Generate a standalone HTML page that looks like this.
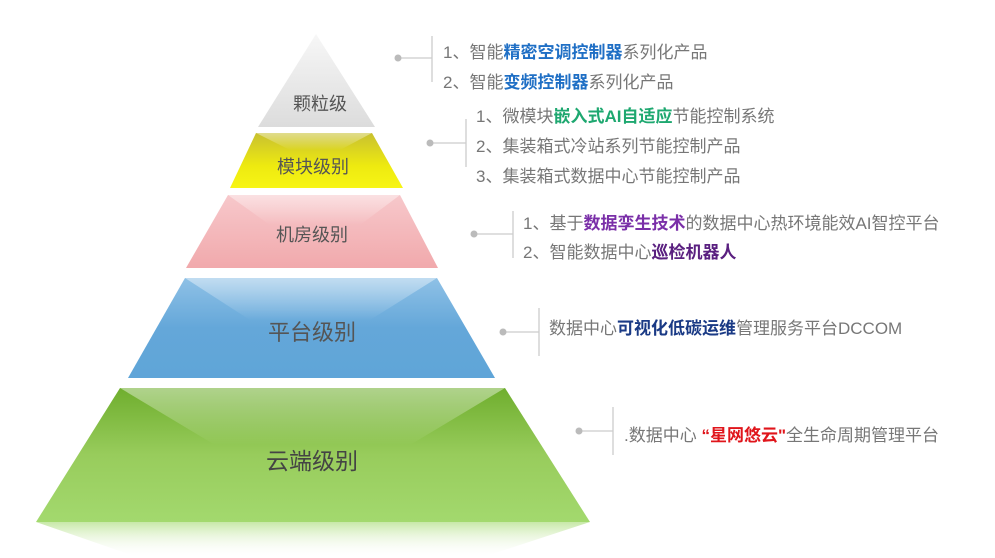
<!DOCTYPE html>
<html><head><meta charset="utf-8"><style>
body{margin:0;width:995px;height:558px;background:#fff;position:relative;overflow:hidden;font-family:"Liberation Sans","Noto Sans CJK SC",sans-serif}
.t{position:absolute;font-size:17px;color:#777;white-space:nowrap;line-height:20px}
.t b{font-weight:bold}
.lab{position:absolute;color:#555;white-space:nowrap;transform:translate(-50%,-50%)}
</style></head><body>
<svg width="995" height="558" style="position:absolute;left:0;top:0">
<defs>
<linearGradient id="g1" x1="0" y1="0" x2="0" y2="1"><stop offset="0" stop-color="#f7f7f7"/><stop offset="1" stop-color="#dcdcdc"/></linearGradient>
<linearGradient id="g2" x1="0" y1="0" x2="0" y2="1"><stop offset="0" stop-color="#c8c030"/><stop offset="0.6" stop-color="#eeea10"/><stop offset="1" stop-color="#f7f515"/></linearGradient>
<linearGradient id="g3" x1="0" y1="0" x2="0" y2="1"><stop offset="0" stop-color="#f7c8cb"/><stop offset="1" stop-color="#f1a9ac"/></linearGradient>
<linearGradient id="g4" x1="0" y1="0" x2="0" y2="1"><stop offset="0" stop-color="#8fc1e6"/><stop offset="0.5" stop-color="#64a7d9"/><stop offset="1" stop-color="#5fa5d8"/></linearGradient>
<linearGradient id="g5" x1="0" y1="0" x2="0" y2="1"><stop offset="0" stop-color="#6fae2e"/><stop offset="0.5" stop-color="#98cc5c"/><stop offset="1" stop-color="#a3d96e"/></linearGradient>
<linearGradient id="hl" x1="0" y1="0" x2="0" y2="1"><stop offset="0" stop-color="#fff" stop-opacity="0.45"/><stop offset="1" stop-color="#fff" stop-opacity="0"/></linearGradient>
<linearGradient id="rf" x1="0" y1="0" x2="0" y2="1"><stop offset="0" stop-color="#a3d96e" stop-opacity="0.6"/><stop offset="1" stop-color="#fff" stop-opacity="0"/></linearGradient>
</defs>
<polygon points="316,34 258,127 375,127" fill="url(#g1)"/>
<polygon points="256,133 372,133 403,188 230,188" fill="url(#g2)"/>
<polygon points="256,133 372,133 340,150 290,150" fill="url(#hl)"/>
<polygon points="228,195 400,195 438,268 186,268" fill="url(#g3)"/>
<polygon points="228,195 400,195 360,225 270,225" fill="url(#hl)"/>
<polygon points="185,278 437,278 495,378 128,378" fill="url(#g4)"/>
<polygon points="185,278 437,278 370,320 250,320" fill="url(#hl)"/>
<polygon points="120,388 505,388 590,522 36,522" fill="url(#g5)"/>
<polygon points="120,388 505,388 410,445 215,445" fill="url(#hl)"/>
<polygon points="36,522 590,522 480,558 140,558" fill="url(#rf)"/>
<g stroke="#ccc" stroke-width="1.3" fill="none">
<path d="M398 58H432M432 36V82"/>
<path d="M430 143H466M466 119V167"/>
<path d="M474 234H513M513 211V258"/>
<path d="M503 332H539M539 308V356"/>
<path d="M579 431H613M613 407V455"/>
</g>
<g fill="#bbb"><circle cx="398" cy="58" r="3.5"/><circle cx="430" cy="143" r="3.5"/><circle cx="474" cy="234" r="3.5"/><circle cx="503" cy="332" r="3.5"/><circle cx="579" cy="431" r="3.5"/></g>
</svg>
<div class="lab" style="left:320px;top:103px;font-size:18px">颗粒级</div>
<div class="lab" style="left:313px;top:166px;font-size:18px">模块级别</div>
<div class="lab" style="left:312px;top:234px;font-size:18px">机房级别</div>
<div class="lab" style="left:312px;top:331px;font-size:22px">平台级别</div>
<div class="lab" style="left:312px;top:459px;font-size:23px;color:#444">云端级别</div>
<div class="t" style="left:443px;top:43px">1、智能<b style="color:#1f6fc5">精密空调控制器</b>系列化产品</div>
<div class="t" style="left:443px;top:73px">2、智能<b style="color:#1f6fc5">变频控制器</b>系列化产品</div>
<div class="t" style="left:476px;top:107px">1、微模块<b style="color:#1ea870">嵌入式AI自适应</b>节能控制系统</div>
<div class="t" style="left:476px;top:137px">2、集装箱式冷站系列节能控制产品</div>
<div class="t" style="left:476px;top:167px">3、集装箱式数据中心节能控制产品</div>
<div class="t" style="left:523px;top:214px">1、基于<b style="color:#7a2fa8">数据孪生技术</b>的数据中心热环境能效AI智控平台</div>
<div class="t" style="left:523px;top:243px">2、智能数据中心<b style="color:#5a2080">巡检机器人</b></div>
<div class="t" style="left:549px;top:319px">数据中心<b style="color:#1a3a85">可视化低碳运维</b>管理服务平台DCCOM</div>
<div class="t" style="left:624px;top:426px">.数据中心 <b style="color:#e0151b">“星网悠云"</b>全生命周期管理平台</div>
</body></html>
